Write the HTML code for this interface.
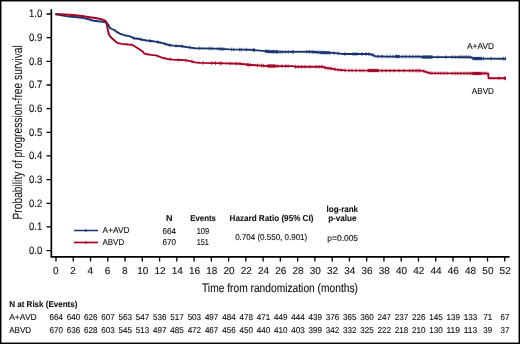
<!DOCTYPE html>
<html><head><meta charset="utf-8"><style>
html,body{margin:0;padding:0;background:#fff;}
svg{display:block;will-change:transform;}
text{font-family:"Liberation Sans", sans-serif;fill:#111;stroke:#111;stroke-width:0.12px;text-rendering:geometricPrecision;}
.b{stroke-width:0.1px;}
</style></head><body>
<svg width="520" height="344" viewBox="0 0 520 344">
<rect x="0" y="0" width="520" height="344" fill="#fff"/>

<path d="M51.35,9.3 V256.9 H509.6" fill="none" stroke="#000" stroke-width="1.7"/>
<path d="M46.5,250.60H51M46.5,226.94H51M46.5,203.28H51M46.5,179.62H51M46.5,155.96H51M46.5,132.30H51M46.5,108.64H51M46.5,84.98H51M46.5,61.32H51M46.5,37.66H51M46.5,14.00H51" stroke="#000" stroke-width="1.3"/>
<text x="42.3" y="254.00" font-size="10.8" text-anchor="end" textLength="13.2" lengthAdjust="spacingAndGlyphs">0.0</text>
<text x="42.3" y="230.34" font-size="10.8" text-anchor="end" textLength="13.2" lengthAdjust="spacingAndGlyphs">0.1</text>
<text x="42.3" y="206.68" font-size="10.8" text-anchor="end" textLength="13.2" lengthAdjust="spacingAndGlyphs">0.2</text>
<text x="42.3" y="183.02" font-size="10.8" text-anchor="end" textLength="13.2" lengthAdjust="spacingAndGlyphs">0.3</text>
<text x="42.3" y="159.36" font-size="10.8" text-anchor="end" textLength="13.2" lengthAdjust="spacingAndGlyphs">0.4</text>
<text x="42.3" y="135.70" font-size="10.8" text-anchor="end" textLength="13.2" lengthAdjust="spacingAndGlyphs">0.5</text>
<text x="42.3" y="112.04" font-size="10.8" text-anchor="end" textLength="13.2" lengthAdjust="spacingAndGlyphs">0.6</text>
<text x="42.3" y="88.38" font-size="10.8" text-anchor="end" textLength="13.2" lengthAdjust="spacingAndGlyphs">0.7</text>
<text x="42.3" y="64.72" font-size="10.8" text-anchor="end" textLength="13.2" lengthAdjust="spacingAndGlyphs">0.8</text>
<text x="42.3" y="41.06" font-size="10.8" text-anchor="end" textLength="13.2" lengthAdjust="spacingAndGlyphs">0.9</text>
<text x="42.3" y="17.40" font-size="10.8" text-anchor="end" textLength="13.2" lengthAdjust="spacingAndGlyphs">1.0</text>
<path d="M56.00,256.9V261.4M73.26,256.9V261.4M90.52,256.9V261.4M107.78,256.9V261.4M125.04,256.9V261.4M142.30,256.9V261.4M159.56,256.9V261.4M176.82,256.9V261.4M194.08,256.9V261.4M211.34,256.9V261.4M228.60,256.9V261.4M245.86,256.9V261.4M263.12,256.9V261.4M280.38,256.9V261.4M297.64,256.9V261.4M314.90,256.9V261.4M332.16,256.9V261.4M349.42,256.9V261.4M366.68,256.9V261.4M383.94,256.9V261.4M401.20,256.9V261.4M418.46,256.9V261.4M435.72,256.9V261.4M452.98,256.9V261.4M470.24,256.9V261.4M487.50,256.9V261.4M504.76,256.9V261.4" stroke="#000" stroke-width="1.3"/>
<text x="55.70" y="274.0" font-size="10.0" text-anchor="middle">0</text>
<text x="72.96" y="274.0" font-size="10.0" text-anchor="middle">2</text>
<text x="90.22" y="274.0" font-size="10.0" text-anchor="middle">4</text>
<text x="107.48" y="274.0" font-size="10.0" text-anchor="middle">6</text>
<text x="124.74" y="274.0" font-size="10.0" text-anchor="middle">8</text>
<text x="142.70" y="274.0" font-size="10.0" text-anchor="middle">10</text>
<text x="159.96" y="274.0" font-size="10.0" text-anchor="middle">12</text>
<text x="177.22" y="274.0" font-size="10.0" text-anchor="middle">14</text>
<text x="194.48" y="274.0" font-size="10.0" text-anchor="middle">16</text>
<text x="211.74" y="274.0" font-size="10.0" text-anchor="middle">18</text>
<text x="229.00" y="274.0" font-size="10.0" text-anchor="middle">20</text>
<text x="246.26" y="274.0" font-size="10.0" text-anchor="middle">22</text>
<text x="263.52" y="274.0" font-size="10.0" text-anchor="middle">24</text>
<text x="280.78" y="274.0" font-size="10.0" text-anchor="middle">26</text>
<text x="298.04" y="274.0" font-size="10.0" text-anchor="middle">28</text>
<text x="315.30" y="274.0" font-size="10.0" text-anchor="middle">30</text>
<text x="332.56" y="274.0" font-size="10.0" text-anchor="middle">32</text>
<text x="349.82" y="274.0" font-size="10.0" text-anchor="middle">34</text>
<text x="367.08" y="274.0" font-size="10.0" text-anchor="middle">36</text>
<text x="384.34" y="274.0" font-size="10.0" text-anchor="middle">38</text>
<text x="401.60" y="274.0" font-size="10.0" text-anchor="middle">40</text>
<text x="418.86" y="274.0" font-size="10.0" text-anchor="middle">42</text>
<text x="436.12" y="274.0" font-size="10.0" text-anchor="middle">44</text>
<text x="453.38" y="274.0" font-size="10.0" text-anchor="middle">46</text>
<text x="470.64" y="274.0" font-size="10.0" text-anchor="middle">48</text>
<text x="487.90" y="274.0" font-size="10.0" text-anchor="middle">50</text>
<text x="505.16" y="274.0" font-size="10.0" text-anchor="middle">52</text>
<text x="202" y="291.5" font-size="12.2" textLength="156" lengthAdjust="spacingAndGlyphs">Time from randomization (months)</text>
<text transform="translate(21.5,219.5) rotate(-90)" x="0" y="0" font-size="13.4" style="stroke-width:0.05px" textLength="174.3" lengthAdjust="spacingAndGlyphs">Probability of progression-free survival</text>
<path d="M55.3,14.4 L69.4,16.6 L78.0,17.3 L83.8,18.1 L89.6,19.5 L92.5,20.5 L98.0,21.3 L103.2,21.8 L106.7,22.6 L108.5,25.3 L109.8,27.8 L112.0,29.0 L114.6,30.1 L116.3,31.7 L119.8,33.6 L124.2,35.2 L128.0,35.9 L130.0,36.4 L133.7,38.2 L138.1,38.8 L142.4,39.7 L146.8,40.5 L151.2,41.0 L155.5,41.6 L159.9,42.5 L164.4,43.7 L168.7,45.0 L173.1,45.6 L181.8,46.2 L186.2,47.0 L190.5,47.6 L194.9,48.2 L215.0,48.6 L230.0,49.4 L250.4,49.8 L260.5,50.6 L268.7,51.6 L280.0,51.9 L310.0,51.8 L321.6,52.5 L333.3,52.9 L340.0,53.6 L343.0,54.0 L368.3,54.0 L371.7,54.5 L375.2,56.2 L385.0,56.5 L420.0,56.6 L423.0,57.1 L470.9,57.1 L473.3,58.6 L506.0,58.7" fill="none" stroke="#18336e" stroke-width="1.9" stroke-linejoin="round"/>
<path d="M134.0,36.3V40.1M141.0,37.5V41.3M150.0,39.0V42.8M158.0,40.2V44.0M165.0,42.0V45.8M170.0,43.3V47.1M176.0,43.9V47.7M182.0,44.3V48.1M190.0,45.6V49.4M199.8,46.4V50.2M209.4,46.6V50.4M212.0,46.6V50.4M218.1,46.9V50.7M220.3,47.0V50.8M222.0,47.1V50.9M223.8,47.2V51.0M231.6,47.5V51.3M233.8,47.6V51.4M239.7,47.7V51.5M241.2,47.7V51.5M246.3,47.8V51.6M253.4,48.1V51.9M254.4,48.2V52.0M265.6,49.3V53.1M268.0,49.6V53.4M270.0,49.7V53.5M272.0,49.8V53.6M274.0,49.8V53.6M276.5,49.9V53.7M278.0,49.9V53.7M280.1,50.0V53.8M282.1,50.0V53.8M285.2,50.0V53.8M288.2,50.0V53.8M291.8,50.0V53.8M293.3,50.0V53.8M307.0,49.9V53.7M309.6,49.9V53.7M312.1,50.0V53.8M313.7,50.1V53.9M316.0,50.3V54.1M318.0,50.4V54.2M320.0,50.5V54.3M322.0,50.6V54.4M324.0,50.7V54.5M326.0,50.8V54.6M330.0,50.9V54.7M334.0,51.1V54.9M338.0,51.5V55.3M345.0,52.1V55.9M353.0,52.1V55.9M355.0,52.1V55.9M357.0,52.1V55.9M362.0,52.1V55.9M366.0,52.1V55.9M369.0,52.2V56.0M372.0,52.7V56.5M374.0,53.7V57.5M378.0,54.4V58.2M382.0,54.5V58.3M387.0,54.6V58.4M390.0,54.6V58.4M393.0,54.6V58.4M396.0,54.6V58.4M399.0,54.6V58.4M403.0,54.7V58.5M406.0,54.7V58.5M410.0,54.7V58.5M413.0,54.7V58.5M416.0,54.7V58.5M419.0,54.7V58.5M422.0,55.0V58.8M424.0,55.2V59.0M426.0,55.2V59.0M428.0,55.2V59.0M430.0,55.2V59.0M432.0,55.2V59.0M438.0,55.2V59.0M446.0,55.2V59.0M452.0,55.2V59.0M455.0,55.2V59.0M458.0,55.2V59.0M460.0,55.2V59.0M462.0,55.2V59.0M464.0,55.2V59.0M466.0,55.2V59.0M468.0,55.2V59.0M470.0,55.2V59.0M473.0,56.5V60.3M475.0,56.7V60.5M477.0,56.7V60.5M479.0,56.7V60.5M481.0,56.7V60.5M483.5,56.7V60.5M491.0,56.8V60.6M503.3,56.8V60.6M505.5,56.8V60.6" fill="none" stroke="#18336e" stroke-width="0.75" opacity="0.95"/>
<path d="M266.0,51.3 L268.7,51.6 L278.0,51.8M320.5,52.4 L321.6,52.5 L329.5,52.8M395.0,56.5 L399.5,56.5M422.5,57.0 L423.0,57.1 L432.0,57.1M473.5,58.6 L482.0,58.6" fill="none" stroke="#18336e" stroke-width="3" opacity="0.9"/>
<path d="M55.3,13.9 L69.4,14.7 L78.0,15.5 L83.8,16.3 L89.6,17.2 L95.4,18.0 L101.3,19.2 L104.1,20.1 L105.8,21.5 L106.7,24.3 L107.6,28.6 L108.5,33.0 L109.8,36.0 L112.0,38.3 L114.6,40.8 L117.2,42.8 L121.8,43.9 L128.0,44.5 L132.0,44.7 L135.5,46.7 L138.1,48.5 L142.4,51.2 L144.2,53.5 L146.8,54.2 L151.2,54.9 L155.5,55.4 L157.3,55.8 L159.9,56.8 L164.4,58.3 L168.7,59.1 L173.1,59.6 L181.8,60.0 L186.2,60.4 L190.5,61.1 L194.9,62.4 L200.0,62.9 L215.0,63.1 L240.2,63.7 L248.3,64.7 L255.5,65.2 L268.7,66.1 L293.3,66.1 L295.3,66.8 L322.8,66.8 L326.3,68.0 L330.9,68.5 L336.7,69.6 L345.0,70.4 L385.0,70.6 L422.0,70.6 L426.6,72.2 L430.1,73.1 L455.0,73.4 L488.2,73.4 L488.6,78.3 L506.0,78.3" fill="none" stroke="#a60022" stroke-width="1.9" stroke-linejoin="round"/>
<path d="M268.0,66.1 L268.7,66.1 L275.0,66.1M368.0,70.5 L378.5,70.6M472.5,73.4 L481.5,73.4" fill="none" stroke="#a60022" stroke-width="3" opacity="0.9"/>
<path d="M170.0,57.3V61.1M178.0,57.9V61.7M186.0,58.5V62.3M192.0,59.6V63.4M203.0,61.0V64.8M211.6,61.2V65.0M215.5,61.2V65.0M220.3,61.3V65.1M221.0,61.3V65.1M230.3,61.6V65.4M236.0,61.7V65.5M240.0,61.8V65.6M247.3,62.7V66.5M248.5,62.8V66.6M250.4,62.9V66.7M257.5,63.4V67.2M261.6,63.7V67.5M263.6,63.9V67.7M267.7,64.1V67.9M269.5,64.2V68.0M271.0,64.2V68.0M273.0,64.2V68.0M274.8,64.2V68.0M276.0,64.2V68.0M278.0,64.2V68.0M282.0,64.2V68.0M285.6,64.2V68.0M288.0,64.2V68.0M295.5,64.9V68.7M298.0,64.9V68.7M301.5,64.9V68.7M305.0,64.9V68.7M310.0,64.9V68.7M316.0,64.9V68.7M319.0,64.9V68.7M322.0,64.9V68.7M325.0,65.7V69.5M328.0,66.3V70.1M331.0,66.6V70.4M335.0,67.4V71.2M338.0,67.8V71.6M341.0,68.1V71.9M345.0,68.5V72.3M349.0,68.5V72.3M352.0,68.5V72.3M356.0,68.6V72.4M360.0,68.6V72.4M363.0,68.6V72.4M368.0,68.6V72.4M370.0,68.6V72.4M372.0,68.6V72.4M374.0,68.6V72.4M376.0,68.7V72.5M378.0,68.7V72.5M382.0,68.7V72.5M386.0,68.7V72.5M390.0,68.7V72.5M394.0,68.7V72.5M399.0,68.7V72.5M404.0,68.7V72.5M410.0,68.7V72.5M413.0,68.7V72.5M416.0,68.7V72.5M418.0,68.7V72.5M420.0,68.7V72.5M424.0,69.4V73.2M427.0,70.4V74.2M430.0,71.2V75.0M432.0,71.2V75.0M435.0,71.3V75.1M438.0,71.3V75.1M441.0,71.3V75.1M444.0,71.4V75.2M447.0,71.4V75.2M452.0,71.5V75.3M455.0,71.5V75.3M458.0,71.5V75.3M461.0,71.5V75.3M464.0,71.5V75.3M467.0,71.5V75.3M470.0,71.5V75.3M472.0,71.5V75.3M474.0,71.5V75.3M476.0,71.5V75.3M478.0,71.5V75.3M480.0,71.5V75.3M482.0,71.5V75.3M484.0,71.5V75.3M486.0,71.5V75.3M499.2,76.4V80.2M504.4,76.4V80.2M505.5,76.4V80.2" fill="none" stroke="#a60022" stroke-width="0.75" opacity="0.95"/>
<text x="466.95" y="48.70" font-size="8.5" textLength="27.20" lengthAdjust="spacingAndGlyphs">A+AVD</text>
<text x="471.85" y="93.50" font-size="8.5" textLength="22.10" lengthAdjust="spacingAndGlyphs">ABVD</text>
<path d="M74,230.5H98" stroke="#18336e" stroke-width="1.5"/><path d="M85.9,229V232" stroke="#18336e" stroke-width="0.9"/>
<path d="M74,242.5H98" stroke="#a60022" stroke-width="1.7"/><path d="M85.9,241.1V244.1" stroke="#a60022" stroke-width="0.9"/>
<text x="102.55" y="232.70" font-size="8.5" textLength="27.10" lengthAdjust="spacingAndGlyphs">A+AVD</text>
<text x="102.55" y="244.70" font-size="8.5" textLength="21.60" lengthAdjust="spacingAndGlyphs">ABVD</text>
<text x="166.05" y="220.60" font-size="8.5" font-weight="bold" class="b" textLength="6.50" lengthAdjust="spacingAndGlyphs">N</text>
<text x="190.15" y="220.60" font-size="8.5" font-weight="bold" class="b" textLength="25.80" lengthAdjust="spacingAndGlyphs">Events</text>
<text x="229.55" y="220.60" font-size="8.5" font-weight="bold" class="b" textLength="83.90" lengthAdjust="spacingAndGlyphs">Hazard Ratio (95% CI)</text>
<text x="326.55" y="211.50" font-size="8.5" font-weight="bold" class="b" textLength="31.50" lengthAdjust="spacingAndGlyphs">log-rank</text>
<text x="328.15" y="220.80" font-size="8.5" font-weight="bold" class="b" textLength="28.40" lengthAdjust="spacingAndGlyphs">p-value</text>
<text x="162.45" y="234.00" font-size="8.5" textLength="13.60" lengthAdjust="spacingAndGlyphs">664</text>
<text x="162.45" y="245.30" font-size="8.5" textLength="13.60" lengthAdjust="spacingAndGlyphs">670</text>
<text x="196.65" y="234.00" font-size="8.5" textLength="12.50" lengthAdjust="spacingAndGlyphs">109</text>
<text x="196.65" y="245.30" font-size="8.5" textLength="12.10" lengthAdjust="spacingAndGlyphs">151</text>
<text x="235.15" y="240.40" font-size="8.5" textLength="72.10" lengthAdjust="spacingAndGlyphs">0.704 (0.550, 0.901)</text>
<text x="327.35" y="240.60" font-size="8.5" textLength="30.70" lengthAdjust="spacingAndGlyphs">p=0.005</text>
<text x="9.25" y="306.50" font-size="8.5" font-weight="bold" class="b" textLength="68.10" lengthAdjust="spacingAndGlyphs">N at Risk (Events)</text>
<text x="9.15" y="319.60" font-size="8.5" textLength="27.60" lengthAdjust="spacingAndGlyphs">A+AVD</text>
<text x="9.15" y="332.90" font-size="8.5" textLength="22.10" lengthAdjust="spacingAndGlyphs">ABVD</text>
<text x="49.55" y="319.60" font-size="8.5" textLength="13.50" lengthAdjust="spacingAndGlyphs">664</text>
<text x="49.55" y="333.10" font-size="8.5" textLength="13.50" lengthAdjust="spacingAndGlyphs">670</text>
<text x="66.81" y="319.60" font-size="8.5" textLength="13.50" lengthAdjust="spacingAndGlyphs">640</text>
<text x="66.81" y="333.10" font-size="8.5" textLength="13.50" lengthAdjust="spacingAndGlyphs">636</text>
<text x="84.07" y="319.60" font-size="8.5" textLength="13.50" lengthAdjust="spacingAndGlyphs">626</text>
<text x="84.07" y="333.10" font-size="8.5" textLength="13.50" lengthAdjust="spacingAndGlyphs">628</text>
<text x="101.33" y="319.60" font-size="8.5" textLength="13.50" lengthAdjust="spacingAndGlyphs">607</text>
<text x="101.33" y="333.10" font-size="8.5" textLength="13.50" lengthAdjust="spacingAndGlyphs">603</text>
<text x="118.59" y="319.60" font-size="8.5" textLength="13.50" lengthAdjust="spacingAndGlyphs">563</text>
<text x="118.59" y="333.10" font-size="8.5" textLength="13.50" lengthAdjust="spacingAndGlyphs">545</text>
<text x="135.85" y="319.60" font-size="8.5" textLength="13.50" lengthAdjust="spacingAndGlyphs">547</text>
<text x="135.85" y="333.10" font-size="8.5" textLength="13.50" lengthAdjust="spacingAndGlyphs">513</text>
<text x="153.11" y="319.60" font-size="8.5" textLength="13.50" lengthAdjust="spacingAndGlyphs">536</text>
<text x="153.11" y="333.10" font-size="8.5" textLength="13.50" lengthAdjust="spacingAndGlyphs">497</text>
<text x="170.37" y="319.60" font-size="8.5" textLength="13.50" lengthAdjust="spacingAndGlyphs">517</text>
<text x="170.37" y="333.10" font-size="8.5" textLength="13.50" lengthAdjust="spacingAndGlyphs">485</text>
<text x="187.63" y="319.60" font-size="8.5" textLength="13.50" lengthAdjust="spacingAndGlyphs">503</text>
<text x="187.63" y="333.10" font-size="8.5" textLength="13.50" lengthAdjust="spacingAndGlyphs">472</text>
<text x="204.89" y="319.60" font-size="8.5" textLength="13.50" lengthAdjust="spacingAndGlyphs">497</text>
<text x="204.89" y="333.10" font-size="8.5" textLength="13.50" lengthAdjust="spacingAndGlyphs">467</text>
<text x="222.15" y="319.60" font-size="8.5" textLength="13.50" lengthAdjust="spacingAndGlyphs">484</text>
<text x="222.15" y="333.10" font-size="8.5" textLength="13.50" lengthAdjust="spacingAndGlyphs">456</text>
<text x="239.41" y="319.60" font-size="8.5" textLength="13.50" lengthAdjust="spacingAndGlyphs">478</text>
<text x="239.41" y="333.10" font-size="8.5" textLength="13.50" lengthAdjust="spacingAndGlyphs">450</text>
<text x="256.67" y="319.60" font-size="8.5" textLength="13.50" lengthAdjust="spacingAndGlyphs">471</text>
<text x="256.67" y="333.10" font-size="8.5" textLength="13.50" lengthAdjust="spacingAndGlyphs">440</text>
<text x="273.93" y="319.60" font-size="8.5" textLength="13.50" lengthAdjust="spacingAndGlyphs">449</text>
<text x="273.93" y="333.10" font-size="8.5" textLength="13.50" lengthAdjust="spacingAndGlyphs">410</text>
<text x="291.19" y="319.60" font-size="8.5" textLength="13.50" lengthAdjust="spacingAndGlyphs">444</text>
<text x="291.19" y="333.10" font-size="8.5" textLength="13.50" lengthAdjust="spacingAndGlyphs">403</text>
<text x="308.45" y="319.60" font-size="8.5" textLength="13.50" lengthAdjust="spacingAndGlyphs">439</text>
<text x="308.45" y="333.10" font-size="8.5" textLength="13.50" lengthAdjust="spacingAndGlyphs">399</text>
<text x="325.71" y="319.60" font-size="8.5" textLength="13.50" lengthAdjust="spacingAndGlyphs">376</text>
<text x="325.71" y="333.10" font-size="8.5" textLength="13.50" lengthAdjust="spacingAndGlyphs">342</text>
<text x="342.97" y="319.60" font-size="8.5" textLength="13.50" lengthAdjust="spacingAndGlyphs">365</text>
<text x="342.97" y="333.10" font-size="8.5" textLength="13.50" lengthAdjust="spacingAndGlyphs">332</text>
<text x="360.23" y="319.60" font-size="8.5" textLength="13.50" lengthAdjust="spacingAndGlyphs">360</text>
<text x="360.23" y="333.10" font-size="8.5" textLength="13.50" lengthAdjust="spacingAndGlyphs">325</text>
<text x="377.49" y="319.60" font-size="8.5" textLength="13.50" lengthAdjust="spacingAndGlyphs">247</text>
<text x="377.49" y="333.10" font-size="8.5" textLength="13.50" lengthAdjust="spacingAndGlyphs">222</text>
<text x="394.75" y="319.60" font-size="8.5" textLength="13.50" lengthAdjust="spacingAndGlyphs">237</text>
<text x="394.75" y="333.10" font-size="8.5" textLength="13.50" lengthAdjust="spacingAndGlyphs">218</text>
<text x="412.01" y="319.60" font-size="8.5" textLength="13.50" lengthAdjust="spacingAndGlyphs">226</text>
<text x="412.01" y="333.10" font-size="8.5" textLength="13.50" lengthAdjust="spacingAndGlyphs">210</text>
<text x="429.27" y="319.60" font-size="8.5" textLength="13.50" lengthAdjust="spacingAndGlyphs">145</text>
<text x="429.27" y="333.10" font-size="8.5" textLength="13.50" lengthAdjust="spacingAndGlyphs">130</text>
<text x="446.53" y="319.60" font-size="8.5" textLength="13.50" lengthAdjust="spacingAndGlyphs">139</text>
<text x="446.53" y="333.10" font-size="8.5" textLength="13.50" lengthAdjust="spacingAndGlyphs">119</text>
<text x="463.79" y="319.60" font-size="8.5" textLength="13.50" lengthAdjust="spacingAndGlyphs">133</text>
<text x="463.79" y="333.10" font-size="8.5" textLength="13.50" lengthAdjust="spacingAndGlyphs">113</text>
<text x="483.35" y="319.60" font-size="8.5" textLength="8.90" lengthAdjust="spacingAndGlyphs">71</text>
<text x="483.35" y="333.10" font-size="8.5" textLength="8.90" lengthAdjust="spacingAndGlyphs">39</text>
<text x="500.61" y="319.60" font-size="8.5" textLength="8.90" lengthAdjust="spacingAndGlyphs">67</text>
<text x="500.61" y="333.10" font-size="8.5" textLength="8.90" lengthAdjust="spacingAndGlyphs">37</text>
<rect x="0" y="0" width="520" height="344" fill="none" stroke="#000" stroke-width="2.9"/>
</svg></body></html>
